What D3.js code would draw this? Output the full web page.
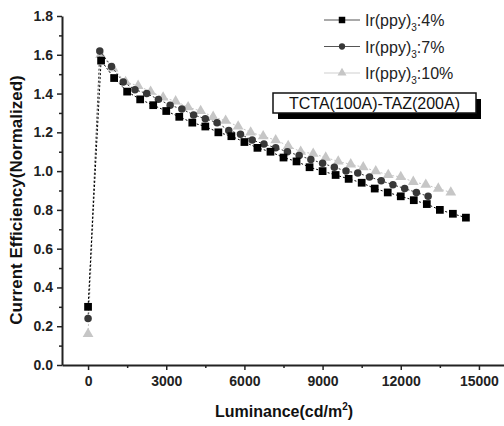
<!DOCTYPE html>
<html>
<head>
<meta charset="utf-8">
<script src="https://cdn.jsdelivr.net/npm/d3@7"></script>
<style>
body { margin: 0; background: #fff; }
text { font-family: Arial, "Liberation Sans", sans-serif; }
</style>
</head>
<body>
<div id="chart"></div>
<script>
// data
var sqX = [0, 500, 1000, 1500, 2000, 2500, 3000, 3500, 4000, 4500, 5000, 5500, 6000, 6500, 7000,
  7500, 8000, 8500, 9000, 9500, 10000, 10500, 11000, 11500, 12000, 12500, 13000, 13500, 14000, 14500];
var sqY = [0.30, 1.57, 1.48, 1.41, 1.37, 1.34, 1.31, 1.28, 1.25, 1.23, 1.20, 1.18, 1.15, 1.12, 1.10,
  1.07, 1.05, 1.02, 1.00, 0.98, 0.96, 0.94, 0.91, 0.89, 0.87, 0.85, 0.83, 0.80, 0.78, 0.76];

var ciX = [0, 450, 900, 1350, 1800, 2250, 2700, 3150, 3600, 4050, 4500, 4950, 5400, 5850, 6300,
  6750, 7200, 7650, 8100, 8550, 9000, 9450, 9900, 10350, 10800, 11250, 11700, 12150, 12600, 13050];
var ciY = [0.24, 1.62, 1.54, 1.46, 1.42, 1.40, 1.37, 1.34, 1.32, 1.29, 1.27, 1.25, 1.21, 1.19, 1.16,
  1.14, 1.12, 1.10, 1.08, 1.06, 1.04, 1.02, 1.00, 0.99, 0.97, 0.95, 0.93, 0.91, 0.89, 0.87];

var trX = [0, 480, 960, 1440, 1920, 2400, 2880, 3360, 3840, 4320, 4800, 5280, 5760, 6240, 6720,
  7200, 7680, 8160, 8640, 9120, 9600, 10080, 10560, 11040, 11520, 12000, 12480, 12960, 13440, 13920];
var trY = [0.16, 1.60, 1.53, 1.46, 1.44, 1.41, 1.38, 1.36, 1.33, 1.31, 1.28, 1.26, 1.23, 1.20, 1.18,
  1.16, 1.13, 1.10, 1.09, 1.07, 1.05, 1.035, 1.02, 1.00, 0.98, 0.97, 0.945, 0.93, 0.91, 0.89];

var seriesNames = ["4%", "7%", "10%"];
var xTicks = [0, 3000, 6000, 9000, 12000, 15000];
var yTicks = [0.0, 0.2, 0.4, 0.6, 0.8, 1.0, 1.2, 1.4, 1.6, 1.8];
var boxLabel = "TCTA(100A)-TAZ(200A)";

var width = 504, height = 426;
var svg = d3.select("#chart").append("svg").attr("width", width).attr("height", height);

var x = d3.scaleLinear().domain([-1000, 16000]).range([62, 505]);
var y = d3.scaleLinear().domain([0, 1.8]).range([365, 16]);

// minor ticks first, then the main axes over them
var xMinor = d3.range(1500, 16000, 3000);
var yMinor = d3.range(0.1, 1.8, 0.2);

svg.append("g").attr("transform", "translate(0,365)")
  .call(d3.axisBottom(x).tickValues(xMinor).tickSize(3).tickFormat(""))
  .call(function(g){ g.select(".domain").remove(); });
svg.append("g").attr("transform", "translate(62,0)")
  .call(d3.axisLeft(y).tickValues(yMinor).tickSize(3).tickFormat(""))
  .call(function(g){ g.select(".domain").remove(); });

var xaxis = svg.append("g").attr("transform", "translate(0,365)")
  .call(d3.axisBottom(x).tickValues(xTicks).tickSize(5).tickSizeOuter(0).tickPadding(6).tickFormat(d3.format("d")));
var yaxis = svg.append("g").attr("transform", "translate(62,0)")
  .call(d3.axisLeft(y).tickValues(yTicks).tickSize(5).tickSizeOuter(0).tickPadding(4).tickFormat(d3.format(".1f")));

svg.selectAll(".domain").attr("stroke", "#222").attr("stroke-width", 2);
svg.selectAll(".tick line").attr("stroke", "#222").attr("stroke-width", 1.5);
svg.selectAll(".tick text").attr("font-size", 14).attr("font-weight", "bold")
  .attr("fill", "#222").style("font-family", "Arial, 'Liberation Sans', sans-serif");

// axis titles
var xt = svg.append("text").attr("x", 284).attr("y", 417).attr("text-anchor", "middle")
  .attr("font-size", 16).attr("font-weight", "bold").attr("fill", "#111");
xt.append("tspan").text("Luminance(cd/m");
xt.append("tspan").attr("font-size", 10).attr("dy", -7).text("2");
xt.append("tspan").attr("dy", 7).text(")");

svg.append("text").attr("transform", "translate(22,200) rotate(-90)").attr("text-anchor", "middle")
  .attr("font-size", 17).attr("font-weight", "bold").attr("fill", "#111")
  .text("Current Efficiency(Normalized)");

// series
var line = d3.line().x(function(d){ return x(d[0]); }).y(function(d){ return y(d[1]); });

function pairs(xs, ys){ return xs.map(function(v, i){ return [v, ys[i]]; }); }

var series = [
  {data: pairs(trX, trY), color: "#c6c6c6", shape: d3.symbolTriangle, size: 50},
  {data: pairs(ciX, ciY), color: "#383838", shape: d3.symbolCircle, size: 44},
  {data: pairs(sqX, sqY), color: "#000000", shape: d3.symbolSquare, size: 60}
];

series.forEach(function(s){
  svg.append("path").datum(s.data).attr("d", line).attr("fill", "none")
    .attr("stroke", s.color).attr("stroke-width", 1).attr("stroke-dasharray", "2,2");
  svg.append("g").selectAll("path").data(s.data).enter().append("path")
    .attr("transform", function(d){ return "translate(" + x(d[0]) + "," + y(d[1]) + ")"; })
    .attr("d", d3.symbol().type(s.shape).size(s.size))
    .attr("fill", s.color);
});

// legend
var legendRows = [series[2], series[1], series[0]];
legendRows.forEach(function(s, i){
  var ly = 20 + i * 26.5;
  var g = svg.append("g");
  g.append("line").attr("x1", 324).attr("x2", 360).attr("y1", ly).attr("y2", ly)
    .attr("stroke", i == 2 ? "#cfcfcf" : "#555").attr("stroke-width", 1);
  g.append("path").attr("transform", "translate(342," + ly + ")")
    .attr("d", d3.symbol().type(s.shape).size(s.size * 0.7)).attr("fill", s.color);
  var t = g.append("text").attr("x", 365).attr("y", ly + 6).attr("font-size", 16).attr("fill", "#222");
  t.append("tspan").text("Ir(ppy)");
  t.append("tspan").attr("font-size", 10).attr("dy", 5).text("3");
  t.append("tspan").attr("dy", -5).text(":" + seriesNames[i]);
});

// label box with shadow
svg.append("rect").attr("x", 278).attr("y", 99).attr("width", 203).attr("height", 20).attr("fill", "#000");
svg.append("rect").attr("x", 273).attr("y", 93).attr("width", 203).attr("height", 20)
  .attr("fill", "#fff").attr("stroke", "#111").attr("stroke-width", 1.5);
svg.append("text").attr("x", 374.5).attr("y", 109).attr("text-anchor", "middle")
  .attr("font-size", 16).attr("fill", "#111").text(boxLabel);
</script>
</body>
</html>
